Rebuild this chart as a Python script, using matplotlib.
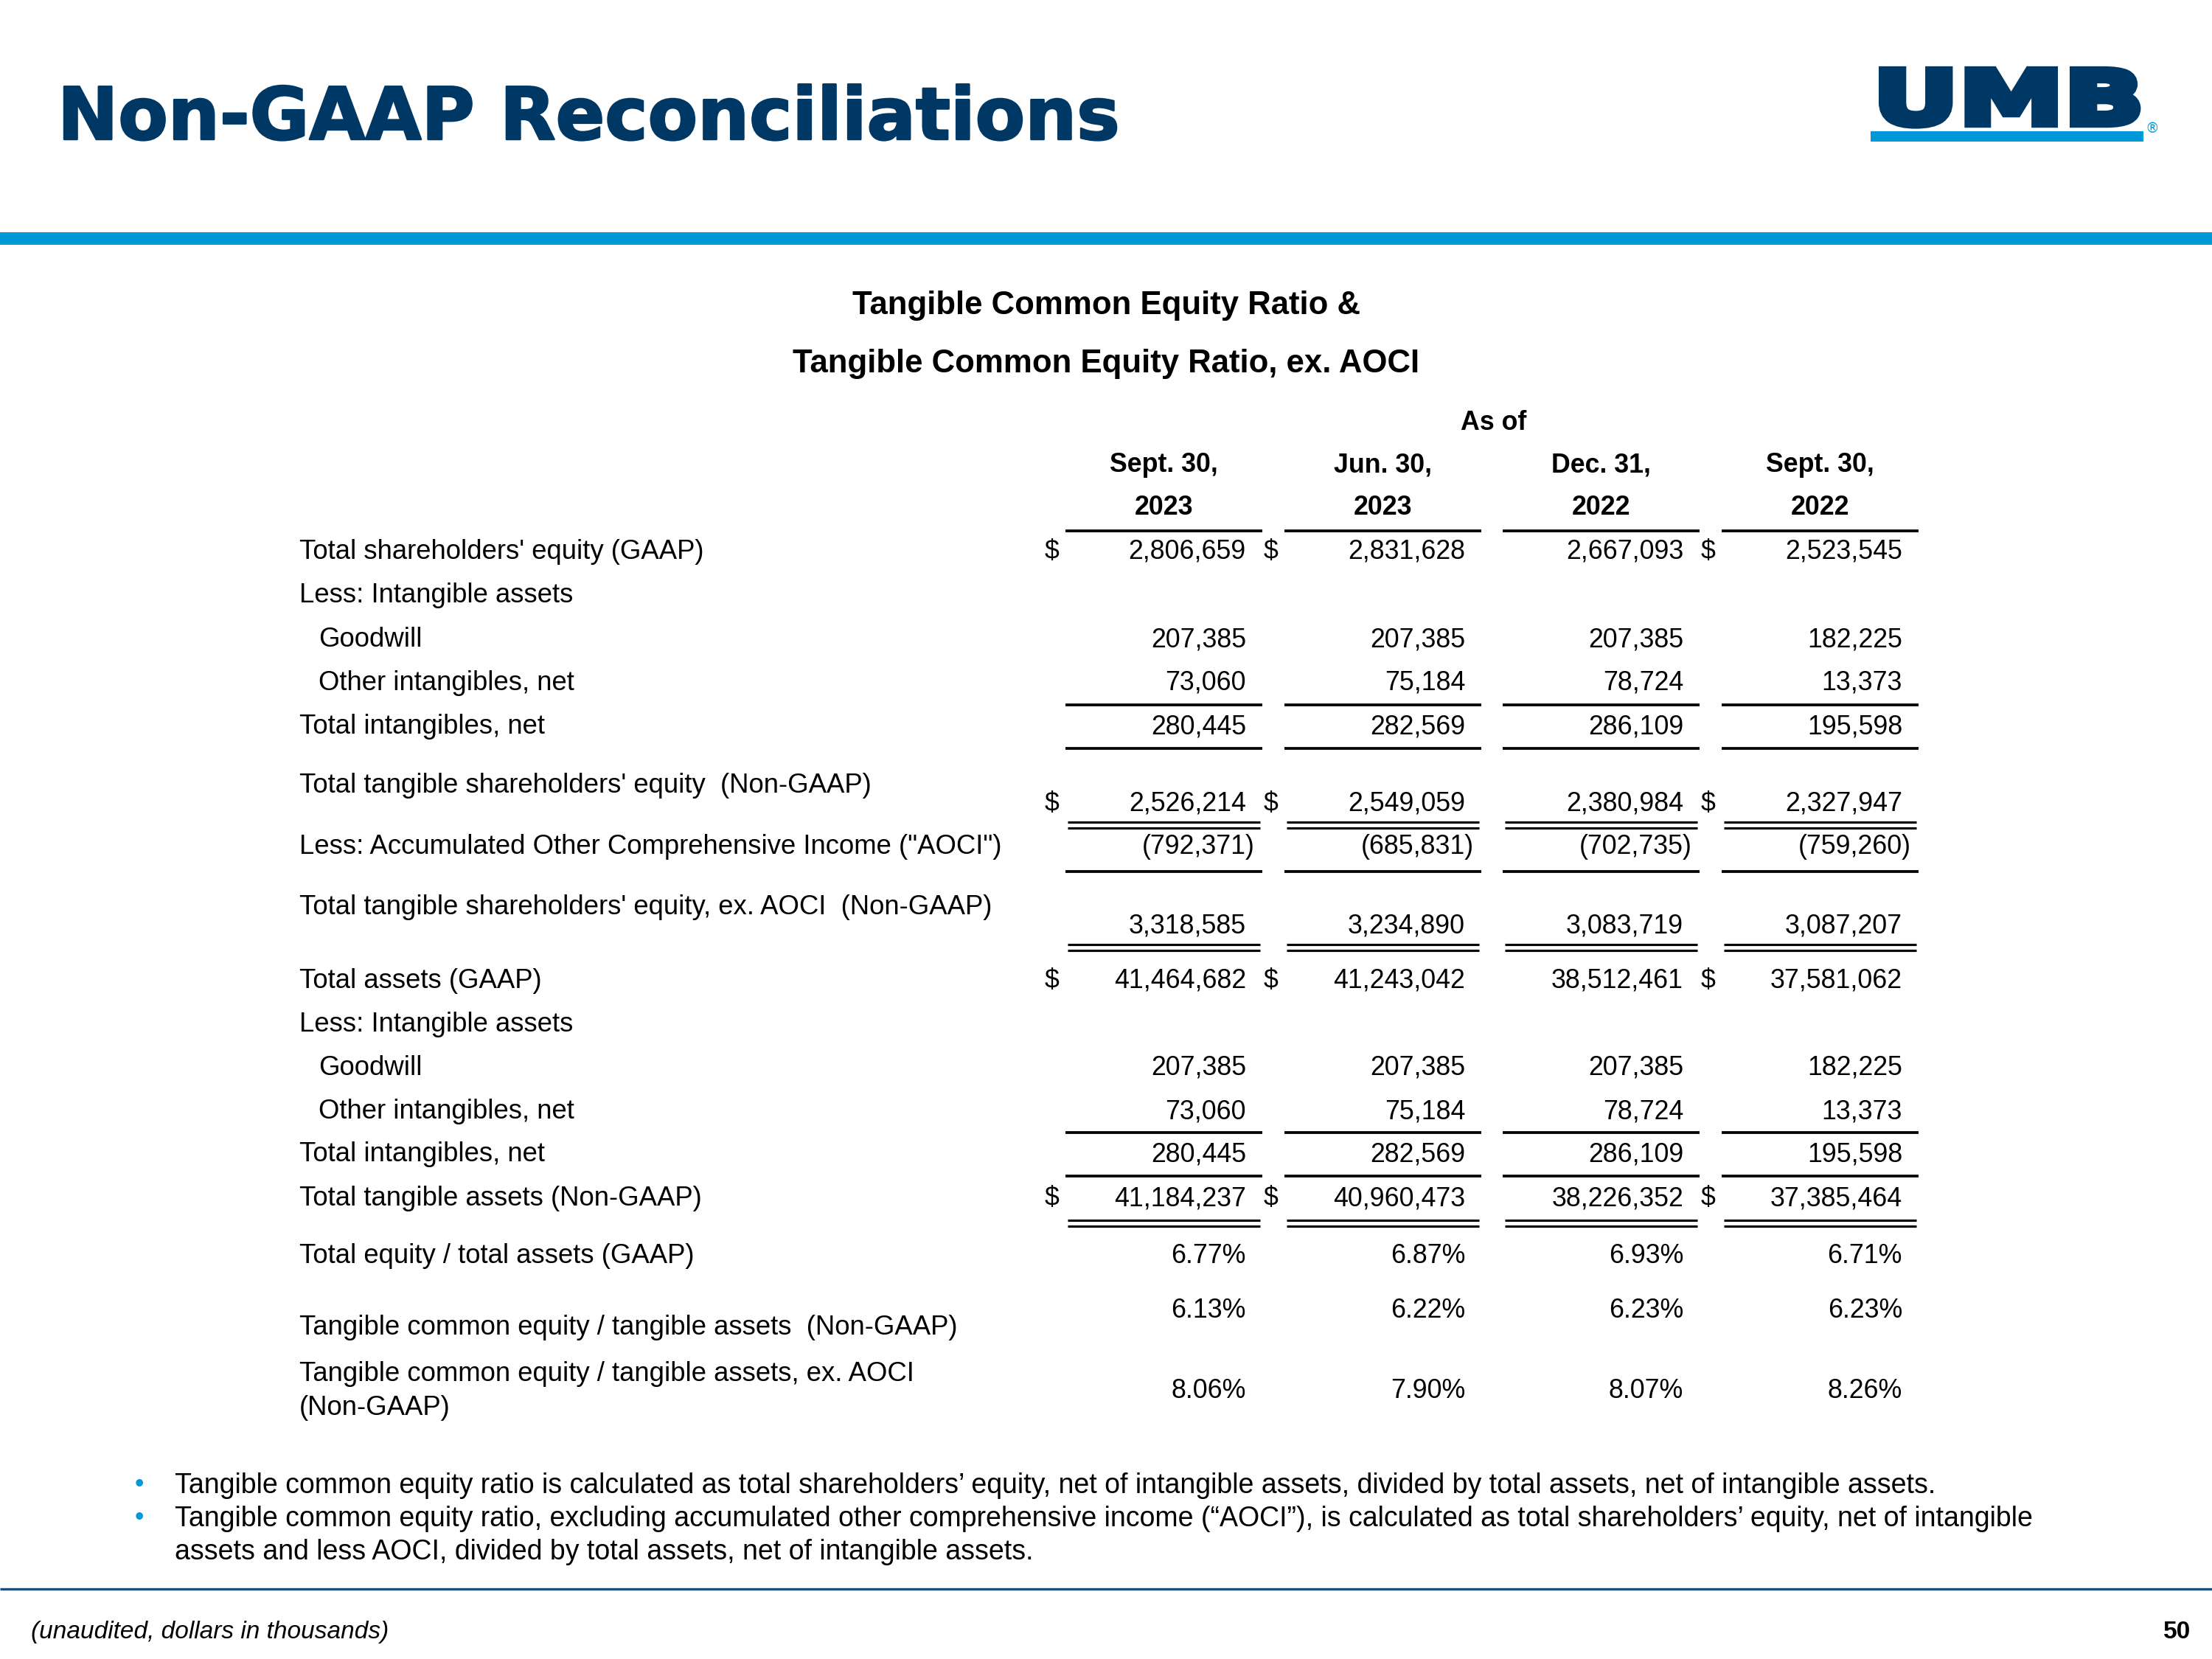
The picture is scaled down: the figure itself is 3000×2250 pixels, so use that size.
import matplotlib
matplotlib.use("Agg")
import matplotlib.pyplot as plt
from matplotlib import patheffects
from matplotlib.patheffects import AbstractPathEffect
from matplotlib.transforms import Affine2D

# ---- data (dollars in thousands) ----
col_dates = ["Sept. 30,", "Jun. 30,", "Dec. 31,", "Sept. 30,"]
col_years = ["2023", "2023", "2022", "2022"]

total_equity = [2806659, 2831628, 2667093, 2523545]
goodwill = [207385, 207385, 207385, 182225]
other_intangibles = [73060, 75184, 78724, 13373]
total_intangibles = [280445, 282569, 286109, 195598]
tangible_equity = [2526214, 2549059, 2380984, 2327947]
aoci = [-792371, -685831, -702735, -759260]
tangible_equity_ex_aoci = [3318585, 3234890, 3083719, 3087207]
total_assets = [41464682, 41243042, 38512461, 37581062]
tangible_assets = [41184237, 40960473, 38226352, 37385464]
equity_to_assets = [6.77, 6.87, 6.93, 6.71]
tce_ratio = [6.13, 6.22, 6.23, 6.23]
tce_ratio_ex_aoci = [8.06, 7.90, 8.07, 8.26]

dollar_cols = [0, 1, 3]     # columns that show a "$" sign on dollar rows

notes = [
    ["Tangible common equity ratio is calculated as total shareholders\u2019 equity, net of intangible assets, divided by total assets, net of intangible assets."],
    ["Tangible common equity ratio, excluding accumulated other comprehensive income (\u201cAOCI\u201d), is calculated as total shareholders\u2019 equity, net of intangible",
     "assets and less AOCI, divided by total assets, net of intangible assets."],
]

NAVY = "#003865"
BLUE = "#0099d8"
FONT = "Liberation Sans"
FS = 8.6        # numbers / headers
FS_LAB = 8.75   # row labels


class HStretch(AbstractPathEffect):
    # stretch glyph outlines horizontally around display x0 and fatten them (logo lettering)
    def __init__(self, sx, x0, lw, color):
        super().__init__()
        self.sx = sx
        self.x0 = x0
        self.lw = lw
        self.color = color

    def draw_path(self, renderer, gc, tpath, affine, rgbFace=None):
        t = affine + Affine2D().translate(-self.x0, 0).scale(self.sx, 1).translate(self.x0, 0)
        gc0 = renderer.new_gc()
        gc0.copy_properties(gc)
        gc0.set_linewidth(self.lw)
        gc0.set_foreground(self.color)
        gc0.set_joinstyle("miter")
        renderer.draw_path(gc0, tpath, t, rgbFace)
        gc0.restore()


def fmt_money(v):
    return "({:,})".format(-v) if v < 0 else "{:,}".format(v)


def fmt_pct(v):
    return "{:.2f}%".format(v)


fig = plt.figure(figsize=(10, 7.5), dpi=300)
ax = fig.add_axes([0, 0, 1, 1])
ax.set_xlim(0, 3000)
ax.set_ylim(2250, 0)
ax.axis("off")

# header
ax.text(78, 189, "Non-GAAP Reconciliations", fontsize=23.6, fontweight="bold",
        family="DejaVu Sans", color=NAVY, va="baseline",
        path_effects=[patheffects.Stroke(linewidth=0.6, foreground=NAVY), patheffects.Normal()])
ax.fill_between([0, 3000], 315, 332, color=BLUE, lw=0)

logo = ax.text(2540, 168, "UMB", fontsize=24.0, fontweight="bold", family="DejaVu Sans",
               color=NAVY, va="baseline")
fig.canvas.draw()
w = logo.get_window_extent(fig.canvas.get_renderer()).width
logo.set_path_effects([HStretch(368 / w, 2540, 2.5, NAVY)])
ax.fill_between([2537, 2907], 178, 192, color=BLUE, lw=0)
ax.text(2909, 180, "\u00ae", fontsize=4.5, color=BLUE, family="DejaVu Sans", va="baseline")

# table titles
ax.text(1500, 426, "Tangible Common Equity Ratio &", fontsize=10.5, fontweight="bold",
        family=FONT, ha="center", va="baseline")
ax.text(1500, 505, "Tangible Common Equity Ratio, ex. AOCI", fontsize=10.5, fontweight="bold",
        family=FONT, ha="center", va="baseline")

seg_left = [1445, 1742, 2038, 2335]
seg_w = 267
num_right = [l + 245 for l in seg_left]

ax.text(2026, 583, "As of", fontsize=FS, fontweight="bold", family=FONT, ha="center", va="baseline")
for i in range(4):
    c = seg_left[i] + seg_w / 2
    ax.text(c, 640, col_dates[i], fontsize=FS, fontweight="bold", family=FONT, ha="center", va="baseline")
    ax.text(c, 698, col_years[i], fontsize=FS, fontweight="bold", family=FONT, ha="center", va="baseline")


def rule(y, double=False):
    for l in seg_left:
        if double:
            ax.hlines([y, y + 8], l + 3, l + seg_w - 3, color="black", lw=0.75)
        else:
            ax.hlines(y, l, l + seg_w, color="black", lw=0.9)


rule(720)

# rows: label lines, label baseline(s), values, formatter, value baseline, dollar sign, indent
rows = [
    (["Total shareholders' equity (GAAP)"], [758], total_equity, fmt_money, 758, True, False),
    (["Less: Intangible assets"], [817], None, None, None, False, False),
    (["Goodwill"], [877], goodwill, fmt_money, 877, False, True),
    (["Other intangibles, net"], [936], other_intangibles, fmt_money, 936, False, True),
    (["Total intangibles, net"], [995], total_intangibles, fmt_money, 995, False, False),
    (["Total tangible shareholders' equity  (Non-GAAP)"], [1075], tangible_equity, fmt_money, 1100, True, False),
    (["Less: Accumulated Other Comprehensive Income (\"AOCI\")"], [1158], aoci, fmt_money, 1158, False, False),
    (["Total tangible shareholders' equity, ex. AOCI  (Non-GAAP)"], [1240], tangible_equity_ex_aoci, fmt_money, 1265, False, False),
    (["Total assets (GAAP)"], [1340], total_assets, fmt_money, 1340, True, False),
    (["Less: Intangible assets"], [1399], None, None, None, False, False),
    (["Goodwill"], [1458], goodwill, fmt_money, 1458, False, True),
    (["Other intangibles, net"], [1517], other_intangibles, fmt_money, 1517, False, True),
    (["Total intangibles, net"], [1575], total_intangibles, fmt_money, 1575, False, False),
    (["Total tangible assets (Non-GAAP)"], [1635], tangible_assets, fmt_money, 1635, True, False),
    (["Total equity / total assets (GAAP)"], [1713], equity_to_assets, fmt_pct, 1713, False, False),
    (["Tangible common equity / tangible assets  (Non-GAAP)"], [1810], tce_ratio, fmt_pct, 1787, False, False),
    (["Tangible common equity / tangible assets, ex. AOCI", "(Non-GAAP)"], [1873, 1919], tce_ratio_ex_aoci, fmt_pct, 1896, False, False),
]

for labels, ly, vals, fmt, vy, dollar, indent in rows:
    x0 = 432 if indent else 406
    for lab, y in zip(labels, ly):
        ax.text(x0, y, lab, fontsize=FS_LAB, family=FONT, va="baseline")
    if vals is None:
        continue
    for i, v in enumerate(vals):
        s = fmt(v)
        xr = num_right[i] + (12 if s.endswith(")") else 0)
        ax.text(xr, vy, s, fontsize=FS, family=FONT, ha="right", va="baseline")
        if dollar and i in dollar_cols:
            ax.text(seg_left[i] - 28, vy, "$", fontsize=FS, family=FONT, va="baseline")

rule(956)
rule(1015)
rule(1115, double=True)
rule(1182)
rule(1281, double=True)
rule(1536)
rule(1595)
rule(1655, double=True)

# footnotes
y = 2025
for note in notes:
    ax.text(183, y - 2, "\u2022", fontsize=8.5, color=BLUE, family=FONT, va="baseline")
    for line in note:
        ax.text(237, y, line, fontsize=9.0, family=FONT, va="baseline")
        y += 45

ax.hlines(2155, 0, 3000, color="#1f4e79", lw=0.8)
ax.text(42, 2222, "(unaudited, dollars in thousands)", fontsize=8.0, style="italic",
        family=FONT, va="baseline")
ax.text(2971, 2222, "50", fontsize=8.0, fontweight="bold", family=FONT, ha="right", va="baseline")

fig.savefig("out.png", dpi=300)
